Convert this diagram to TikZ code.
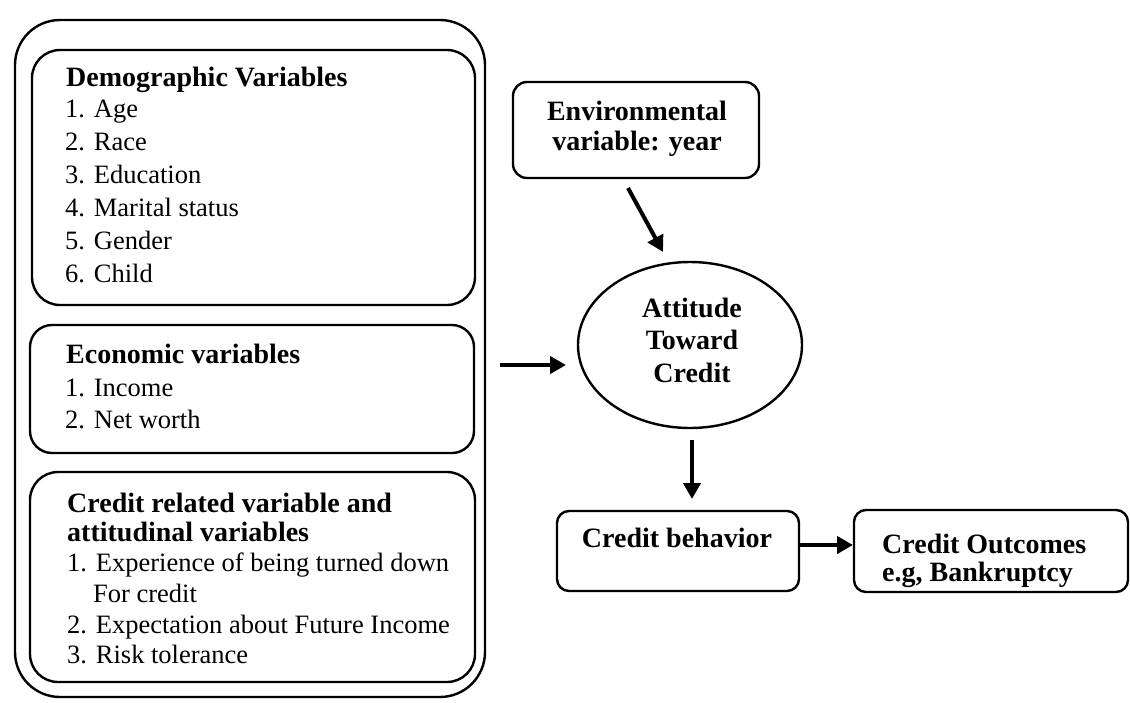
\documentclass[tikz,border=0pt]{standalone}
\usepackage{fontspec}
\setmainfont{Liberation Serif}
\usetikzlibrary{arrows.meta,shapes.geometric}
\tikzset{
  box/.style={draw, line width=2.4pt, rounded corners=#1},
  ln/.style={anchor=base west, inner sep=0pt, font=\fontsize{26.5}{32}\selectfont},
  hd/.style={ln, font=\fontsize{28}{32}\selectfont\bfseries},
  cl/.style={anchor=base, inner sep=0pt, font=\fontsize{28}{32}\selectfont\bfseries},
  arr/.style={line width=4pt, -{Triangle[length=16pt,width=17pt]}},
}
\begin{document}
\begin{tikzpicture}[x=1pt,y=-1pt]
\useasboundingbox (0,0) rectangle (1130,702);
% outer box
\draw[box=45pt] (15,20) rectangle (485,697);
% inner boxes
\draw[box=28pt] (32,50) rectangle (475,305);
\draw[box=22pt] (30,325) rectangle (474,453);
\draw[box=28pt] (30,472) rectangle (475,682);
% demographic
\node[hd] (d0) at (66,86) {Demographic Variables};
\node[ln] (d1) at (65,117) {1. Age};
\node[ln] (d2) at (65,150) {2. Race};
\node[ln] (d3) at (65,183) {3. Education};
\node[ln] (d4) at (65,216) {4. Marital status};
\node[ln] (d5) at (65,249) {5. Gender};
\node[ln] (d6) at (65,282) {6. Child};
% economic
\node[hd] (e0) at (66,363) {Economic variables};
\node[ln] (e1) at (65,396) {1. Income};
\node[ln] (e2) at (65,428) {2. Net worth};
% credit related
\node[hd] (c0) at (67,512) {Credit related variable and};
\node[hd] (c1) at (67,541) {attitudinal variables};
\node[ln] (c2) at (67,571) {1. Experience of being turned down};
\node[ln] (c3) at (93,602) {For credit};
\node[ln] (c4) at (67,633) {2. Expectation about Future Income};
\node[ln] (c5) at (67,663) {3. Risk tolerance};
% environmental
\node[box=14pt, minimum width=246pt, minimum height=96pt] (env) at (636,130) {};
\node[cl] (env1) at (637,120) {Environmental};
\node[cl] (env2) at (637,150) {variable: year};
% attitude ellipse
\node[draw, ellipse, line width=2.4pt, minimum width=224pt, minimum height=166pt] (att) at (690,345) {};
\node[cl] (a1) at (692,317) {Attitude};
\node[cl] (a2) at (692,349) {Toward};
\node[cl] (a3) at (692,382) {Credit};
% credit behavior
\node[box=12pt, minimum width=242pt, minimum height=80pt] (beh) at (678,551) {};
\node[cl] (beh1) at (677,547) {Credit behavior};
% credit outcomes
\node[box=12pt, minimum width=274pt, minimum height=82pt] (out) at (991,551) {};
\node[hd] (o1) at (882,553) {Credit Outcomes};
\node[hd] (o2) at (882,581) {e.g, Bankruptcy};
% arrows
\coordinate (p1) at (628,188);
\coordinate (p2) at (663,252);
\draw[arr] (p1) -- (p2);
\coordinate (q1) at (500,365);
\coordinate (q2) at (566,365);
\draw[arr] (q1) -- (q2);
\coordinate (r1) at (692,440);
\coordinate (r2) at (692,499);
\draw[arr] (r1) -- (r2);
\coordinate (s1) at (800,545);
\coordinate (s2) at (853,545);
\draw[arr] (s1) -- (s2);
\end{tikzpicture}
\end{document}
